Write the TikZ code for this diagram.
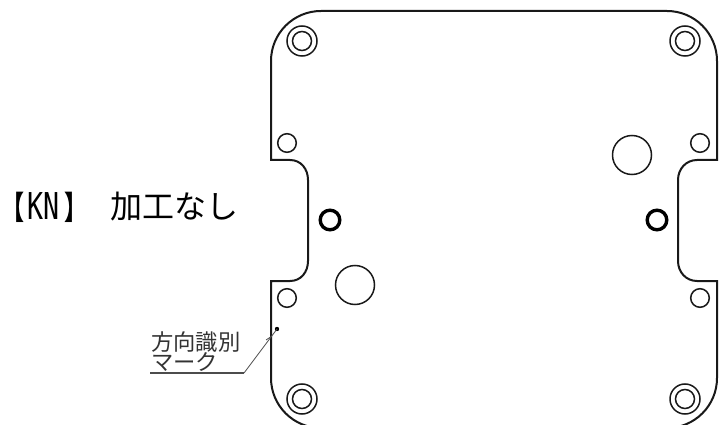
\documentclass[tikz,border=0pt]{standalone}
\usepackage{fontspec}
\newfontfamily\cjk{Noto Sans CJK JP}
\newfontfamily\cjkb[FakeStretch=0.72]{Noto Sans CJK JP Black}
\newfontfamily\latn[FakeStretch=0.72]{DejaVu Sans Mono}
\tikzset{
  outline/.style={line width=2pt,black!90},
  ring/.style={line width=1.5pt,black!90},
  hole/.style={line width=1.5pt,black!90},
  thickring/.style={line width=3.4pt,black},
  leader/.style={line width=0.8pt,black!70},
  baseline leader/.style={line width=1.2pt,black!70},
  title/.style={inner sep=0pt,anchor=west,font=\cjk\fontsize{32}{32}\selectfont},
  note/.style={inner sep=0pt,anchor=west,black!80,font=\cjk\fontsize{22.3}{23}\selectfont}
}
\begin{document}
\begin{tikzpicture}[x=1pt,y=-1pt]
\useasboundingbox (0,0) rectangle (721,425);
\begin{scope}
\clip (0,0) rectangle (721,425);
\draw[outline]
  (321,11) -- (667,11) arc[start angle=-90,end angle=0,radius=50] -- (717,160) -- (697,160)
  .. controls (686,160) and (678,169) .. (678,180) -- (678,261)
  .. controls (678,272) and (686,281) .. (697,281) -- (717,281) -- (717,378)
  arc[start angle=0,end angle=90,radius=50] -- (321,428)
  arc[start angle=90,end angle=180,radius=50] -- (271,281) -- (290,281)
  .. controls (301,281) and (308,272) .. (308,261) -- (308,180)
  .. controls (308,169) and (301,160) .. (290,160) -- (271,160) -- (271,61)
  arc[start angle=180,end angle=270,radius=50] -- cycle;
\end{scope}
\foreach \x/\y in {302/41,685/41,302/399,685/399}{
  \draw[ring] (\x,\y) circle[radius=15];
  \draw[ring] (\x,\y) circle[radius=9.5];
}
\foreach \x/\y in {287/143,700/143,287/298,700/298}{
  \draw[hole] (\x,\y) circle[radius=9.3];
}
\foreach \x/\y in {330/220,657/220}{
  \draw[thickring] (\x,\y) circle[radius=9.8];
}
\draw[hole] (355,285) circle[radius=19.5];
\draw[hole] (632,155) circle[radius=19.5];
\node[title] (kn) at (1.5,207) {{\cjkb【}\kern3pt{\latn\fontsize{37}{37}\selectfont KN}\kern5pt{\cjkb】}};
\node[title] (kako) at (110,207) {加工なし};
\node[note] (houkou) at (151,342) {方向識別};
\node[note] (maaku) at (151,362) {マーク};
\coordinate (dot) at (277,329);
\coordinate (knee) at (244,373);
\coordinate (lstart) at (150,373);
\fill (dot) circle[radius=2.2];
\draw[baseline leader] (lstart) -- (knee);
\draw[leader] (knee) -- (dot);
\draw[leader] (266,340) -- (272,336);
\end{tikzpicture}
\end{document}
